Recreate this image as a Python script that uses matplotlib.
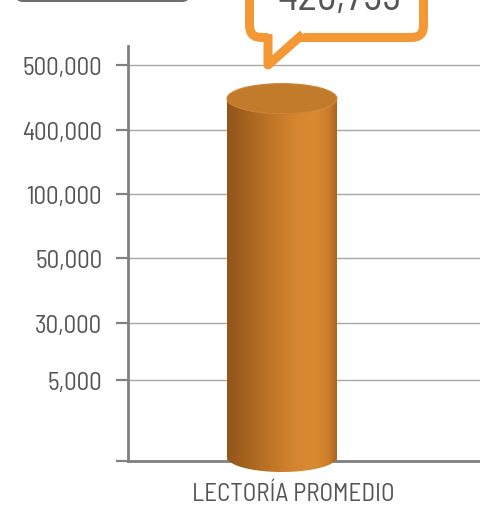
import numpy as np
import matplotlib
matplotlib.use('Agg')
import matplotlib.pyplot as plt
from matplotlib.patches import Rectangle, Ellipse, FancyBboxPatch, PathPatch, Polygon
from matplotlib.path import Path
from matplotlib.lines import Line2D
from matplotlib.transforms import IdentityTransform
from matplotlib.colors import LinearSegmentedColormap

# ---------------- data ----------------
categories = ["LECTORÍA PROMEDIO"]
values = [426759]
callout_labels = ["426,759"]
tick_values = [0, 5000, 30000, 50000, 100000, 400000, 500000]
tick_labels = ["", "5,000", "30,000", "50,000", "100,000", "400,000", "500,000"]
# the printed axis is not linear: height (px above baseline) of each tick
tick_heights = [0, 81, 138, 203, 267, 331, 396]

plt.rcParams['font.family'] = ['Barlow Semi Condensed', 'Roboto Condensed', 'DejaVu Sans']

W, H = 481, 506
fig = plt.figure(figsize=(W / 100, H / 100), dpi=100)
fig.patch.set_facecolor('white')

ext_vals = np.array(tick_values + [600000], dtype=float)
ext_pos = np.array(tick_heights + [461], dtype=float)


def fwd(v):
    return np.interp(np.asarray(v, dtype=float), ext_vals, ext_pos)


def inv(p):
    return np.interp(np.asarray(p, dtype=float), ext_pos, ext_vals)


ax_l, ax_r, ax_b, ax_t = 128, 481, 462, 47  # pixel box (top-origin)
ax = fig.add_axes([ax_l / W, (H - ax_b) / H, (ax_r - ax_l) / W, (ax_b - ax_t) / H])
ax.set_yscale('function', functions=(fwd, inv))
ax.set_ylim(0, float(inv(ax_b - ax_t)))
bar_center_px = 282
bar_w_px = 110
span = ax_r - ax_l
x0 = -(bar_center_px - ax_l) / span
ax.set_xlim(x0, x0 + 1)
bw = bar_w_px / span

ax.set_facecolor('white')
for s in ['top', 'right']:
    ax.spines[s].set_visible(False)
for s in ['left', 'bottom']:
    ax.spines[s].set_color('#808080')
    ax.spines[s].set_linewidth(2)
ax.set_yticks(tick_values)
ax.set_yticklabels(tick_labels)
ax.set_xticks([])
ax.tick_params(axis='y', length=8.6, width=1.6, color='#808080', pad=10,
               labelsize=18, labelcolor='#555555')
ax.yaxis.grid(True, color='#a8a8a8', lw=1.0)
ax.set_axisbelow(True)

# base bar (covered by the cylinder shading)
xs = np.arange(len(categories))
ax.bar(xs, values, width=bw, color='#c27a2b', zorder=2)

# ---------------- cylinder shading (display pixels) ----------------
ident = IdentityTransform()
cmap = LinearSegmentedColormap.from_list('cyl', [
    (0.0, '#93551a'), (0.15, '#a2601e'), (0.4, '#bf7526'),
    (0.62, '#d5852f'), (0.82, '#d98a30'), (0.93, '#c97b2a'), (1.0, '#a86420')])


def P(x, y):
    return (x, H - y)


for i, v in enumerate(values):
    xl, yv = ax.transData.transform((xs[i] - bw / 2, v))
    xr, yb = ax.transData.transform((xs[i] + bw / 2, 0))
    xc = (xl + xr) / 2
    a = (xr - xl) / 2
    b = 15
    ytop_c = yv + 14
    ybot_c = yb + 4
    th = np.linspace(np.pi, 2 * np.pi, 60)
    verts = [(xl, ytop_c), (xl, ybot_c)]
    verts += list(zip(xc + a * np.cos(th), ybot_c + b * np.sin(th)))
    verts += [(xr, ybot_c), (xr, ytop_c), (xl, ytop_c)]
    clip = PathPatch(Path(verts), transform=ident, fc='none', ec='none')
    fig.add_artist(clip)
    clip.set_visible(False)
    n = int(round(xr - xl))
    for k in range(n):
        r = Rectangle((xl + k, ybot_c - b - 1), 1.05, ytop_c - ybot_c + b + 1,
                      transform=ident, fc=cmap((k + 0.5) / n), ec='none', lw=0)
        r.set_clip_path(clip)
        fig.add_artist(r)
    top = Ellipse((xc, ytop_c), width=2 * a, height=2 * b, transform=ident,
                  fc='#c27a2b', ec='#cd8638', lw=0.8)
    fig.add_artist(top)

    # ---------------- callout bubble ----------------
    box = FancyBboxPatch(P(249.5, 38.5), 423.5 - 249.5, 100,
                         boxstyle='round,pad=0,rounding_size=12',
                         transform=ident, fc='white', ec='#f39834', lw=6.5)
    fig.add_artist(box)
    cover = Polygon([P(268, 31), P(307, 31), P(300, 38.5), P(268, 66)],
                    closed=True, transform=ident, fc='white', ec='none')
    fig.add_artist(cover)
    tail = Line2D([268, 268, 303], [H - 35, H - 66, H - 35], transform=ident,
                  color='#f39834', lw=6.5, solid_joinstyle='round',
                  solid_capstyle='butt')
    fig.add_artist(tail)
    fig.text(340 / W, (H - 10) / H, callout_labels[i], ha='center', va='baseline',
             fontsize=30, color='#555555')

# category label
fig.text(293 / W, (H - 501) / H, categories[0], ha='center', va='baseline',
         fontsize=18, color='#555555')

# grey box cut off at the top-left
grey = FancyBboxPatch((15, H - 3), 175, 40, boxstyle='round,pad=0,rounding_size=8',
                      transform=ident, fc='#6e6e6e', ec='none')
fig.add_artist(grey)

fig.savefig('out.png', dpi=100)
